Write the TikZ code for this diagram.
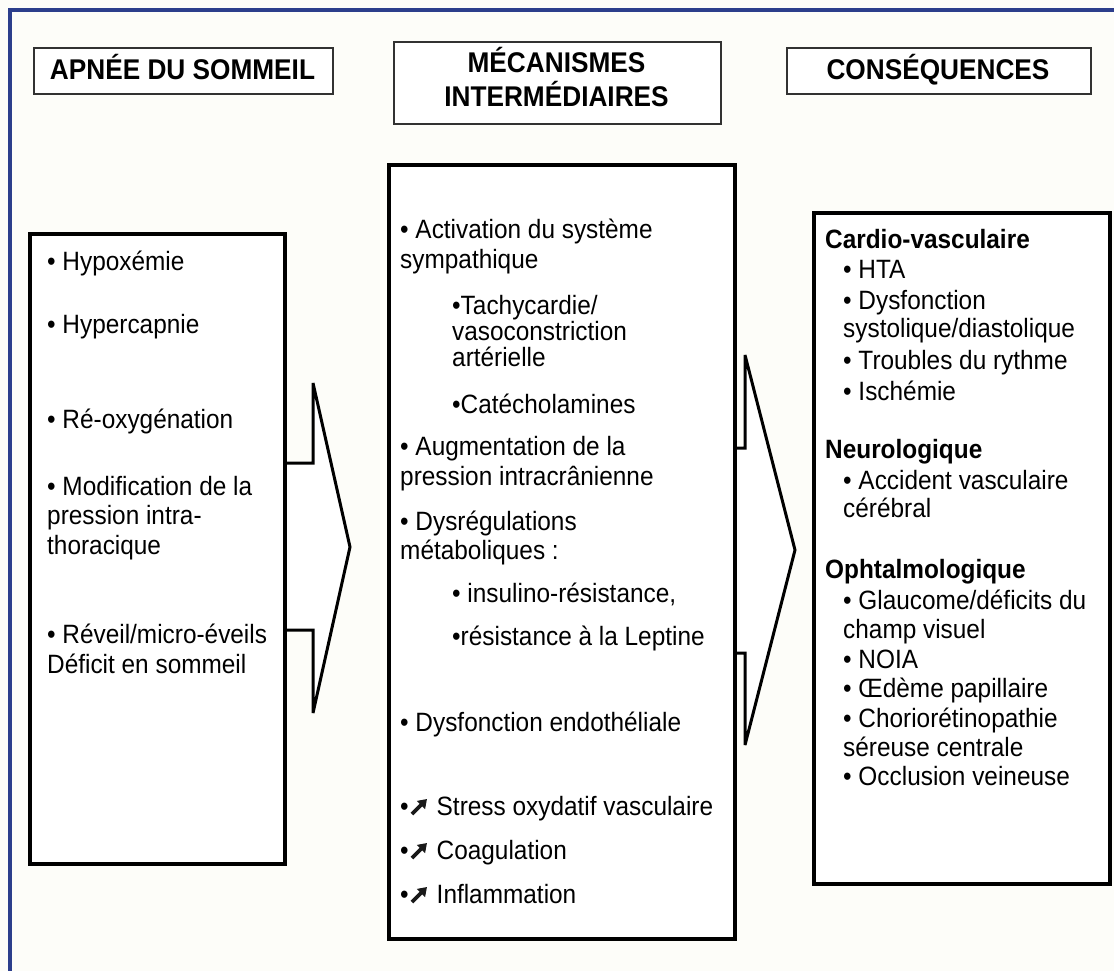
\documentclass[tikz,border=0pt]{standalone}
\usepackage{fontspec}
\setmainfont{Liberation Sans}[FakeStretch=0.92]
\usetikzlibrary{arrows.meta,calc}
\definecolor{bgcol}{RGB}{253,253,249}
\definecolor{framecol}{RGB}{44,62,140}
\definecolor{hdrcol}{RGB}{50,50,50}
\begin{document}
\begin{tikzpicture}[x=1pt,y=-1pt,
  hdrbox/.style={draw=hdrcol, line width=1.8pt, fill=white, inner sep=0, anchor=north west},
  mainbox/.style={draw=black, line width=4pt, fill=white, inner sep=0, anchor=north west},
  bigarrow/.style={draw=black, line width=3pt, fill=white, line join=miter, miter limit=5},
  txt/.style={anchor=base west, inner sep=0, font=\fontsize{26.5}{29.5}\selectfont},
  btxt/.style={txt, font=\bfseries\fontsize{26.5}{29.5}\selectfont},
  hdr/.style={anchor=base, inner sep=0, font=\bfseries\fontsize{28.5}{34}\selectfont},
  heavyarr/.style={draw=black!90, line width=3.6pt, line cap=butt, -{Triangle[length=8.5pt,width=11pt]}}]
\useasboundingbox (0,0) rectangle (1114,971);
\fill[bgcol] (0,0) rectangle (1114,971);
\draw[framecol, line width=3.5pt] (10,971) -- (10,10) -- (1114,10);

% header boxes
\node[hdrbox, minimum width=299pt, minimum height=46pt] (hA) at (33,47) {};
\node[hdrbox, minimum width=327pt, minimum height=82pt] (hB) at (393,41) {};
\node[hdrbox, minimum width=304pt, minimum height=46pt] (hC) at (786,47) {};
\node[hdr] (tA) at (182.5,80) {APNÉE DU SOMMEIL};
\node[hdr] (tB1) at (556.5,73) {MÉCANISMES};
\node[hdr] (tB2) at (556.5,107) {INTERMÉDIAIRES};
\node[hdr] (tC) at (938,80) {CONSÉQUENCES};

% block arrows (shafts hidden behind boxes)
\draw[bigarrow] (250,463) -- (313,463) -- (313,383) -- (350,547) -- (313,713) -- (313,630) -- (250,630) -- cycle;
\draw[bigarrow] (700,448) -- (745,448) -- (745,355) -- (795,550) -- (745,745) -- (745,653) -- (700,653) -- cycle;

% main boxes
\node[mainbox, minimum width=255pt, minimum height=630pt] (left) at (28,232) {};
\node[mainbox, minimum width=346pt, minimum height=774pt] (mid) at (387,163) {};
\node[mainbox, minimum width=296pt, minimum height=671pt] (right) at (812,211) {};

% left box text
\node[txt] (l1) at (47,270) {• Hypoxémie};
\node[txt] (l2) at (47,333) {• Hypercapnie};
\node[txt] (l3) at (47,428) {• Ré-oxygénation};
\node[txt] (l4a) at (47,495) {• Modification de la};
\node[txt] (l4b) at (47,524.5) {pression intra-};
\node[txt] (l4c) at (47,554) {thoracique};
\node[txt] (l5a) at (47,643) {• Réveil/micro-éveils};
\node[txt] (l5b) at (47,673) {Déficit en sommeil};

% middle box text
\node[txt] (m1a) at (400,238) {• Activation du système};
\node[txt] (m1b) at (400,268) {sympathique};
\node[txt] (m2a) at (452,314) {•Tachycardie/};
\node[txt] (m2b) at (452,340) {vasoconstriction};
\node[txt] (m2c) at (452,366) {artérielle};
\node[txt] (m3) at (452,413) {•Catécholamines};
\node[txt] (m4a) at (400,455) {• Augmentation de la};
\node[txt] (m4b) at (400,485) {pression intracrânienne};
\node[txt] (m5a) at (400,530) {• Dysrégulations};
\node[txt] (m5b) at (400,559) {métaboliques :};
\node[txt] (m6) at (452,602) {• insulino-résistance,};
\node[txt] (m7) at (452,645) {•résistance à la Leptine};
\node[txt] (m8) at (400,731) {• Dysfonction endothéliale};
\node[txt] (m9) at (400,815) {•\hspace{28pt}Stress oxydatif vasculaire};
\node[txt] (m10) at (400,859) {•\hspace{28pt}Coagulation};
\node[txt] (m11) at (400,903) {•\hspace{28pt}Inflammation};
\draw[heavyarr] ($(m9.base west)+(12,-1)$) -- ++(15,-15);
\draw[heavyarr] ($(m10.base west)+(12,-1)$) -- ++(15,-15);
\draw[heavyarr] ($(m11.base west)+(12,-1)$) -- ++(15,-15);

% right box text
\node[btxt] (r1) at (825,248) {Cardio-vasculaire};
\node[txt] (r1a) at (843,278) {• HTA};
\node[txt] (r1b) at (843,309) {• Dysfonction};
\node[txt] (r1c) at (843,337) {systolique/diastolique};
\node[txt] (r1d) at (843,369) {• Troubles du rythme};
\node[txt] (r1e) at (843,400) {• Ischémie};
\node[btxt] (r2) at (825,458) {Neurologique};
\node[txt] (r2a) at (843,489) {• Accident vasculaire};
\node[txt] (r2b) at (843,517) {cérébral};
\node[btxt] (r3) at (825,578) {Ophtalmologique};
\node[txt] (r3a) at (843,609) {• Glaucome/déficits du};
\node[txt] (r3b) at (843,638) {champ visuel};
\node[txt] (r3c) at (843,668) {• NOIA};
\node[txt] (r3d) at (843,697) {• Œdème papillaire};
\node[txt] (r3e) at (843,727) {• Choriorétinopathie};
\node[txt] (r3f) at (843,756) {séreuse centrale};
\node[txt] (r3g) at (843,785) {• Occlusion veineuse};
\end{tikzpicture}
\end{document}
